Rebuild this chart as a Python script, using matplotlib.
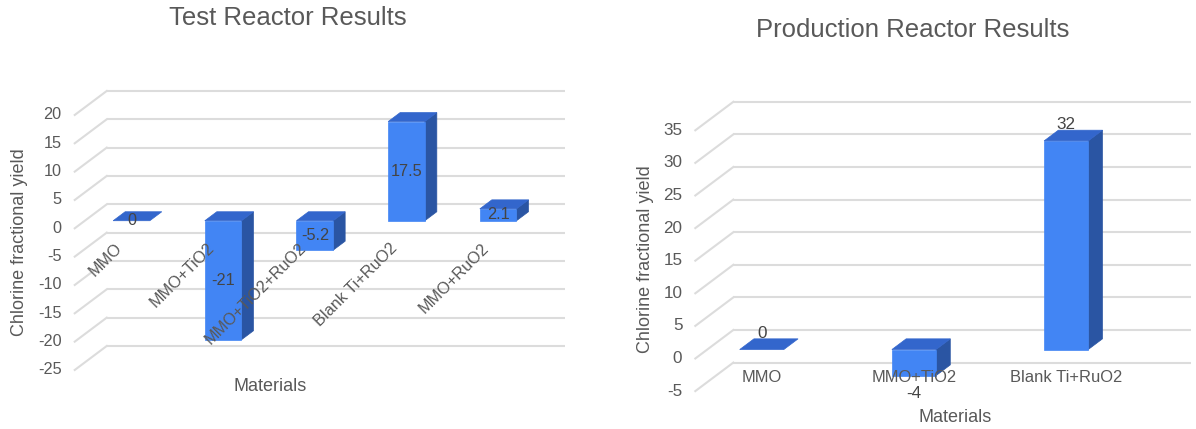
import matplotlib
matplotlib.use('Agg')
import matplotlib.pyplot as plt
from matplotlib.patches import Polygon

plt.rcParams['font.family'] = ['Liberation Sans', 'DejaVu Sans']

# chart data
test_materials = ['MMO', 'MMO+TiO2', 'MMO+TiO2+RuO2', 'Blank Ti+RuO2', 'MMO+RuO2']
test_yield = [0, -21, -5.2, 17.5, 2.1]
test_ticks = [20, 15, 10, 5, 0, -5, -10, -15, -20, -25]

prod_materials = ['MMO', 'MMO+TiO2', 'Blank Ti+RuO2']
prod_yield = [0, -4, 32]
prod_ticks = [35, 30, 25, 20, 15, 10, 5, 0, -5]

W, H = 1196, 429
FRONT = '#4285F4'
TOP = '#3366CC'
SIDE = '#2A55A3'
GRID = '#dcdcdc'
TEXT = '#595959'
T_BACK, T_FRONT = 0.31, 0.685


def place_axes(fig, px_left, px_right, cat0_px, cat_px, zero_px, unit_px):
    """Axes covering a pixel strip, scaled so category i sits at cat0_px + i*cat_px."""
    ax = fig.add_axes([px_left / W, 0, (px_right - px_left) / W, 1])
    ax.set_xlim((px_left - cat0_px) / cat_px, (px_right - cat0_px) / cat_px)
    ax.set_ylim((zero_px - H) / unit_px, zero_px / unit_px)
    ax.set_axis_off()
    return ax


def draw_chart(ax, cats, vals, ticks, wall, depth, width, fs, outside_labels):
    ddx, ddy = depth

    def P(c, v, t):
        return (c + t * ddx, v + t * ddy)

    # back wall and floor grid
    for v in ticks:
        ax.plot([wall[0], wall[1]], [v, v], color=GRID, lw=1.5, zorder=1,
                solid_capstyle='butt')
        ax.plot([wall[0], wall[0] + ddx], [v, v + ddy], color=GRID, lw=1.5,
                zorder=1)
        ax.annotate(str(v), (wall[0] + ddx, v + ddy), xytext=(-13, 0),
                    textcoords='offset pixels', ha='right', va='center',
                    fontsize=fs, color=TEXT)

    # bars
    for i, v in enumerate(vals):
        c0, c1 = i - width / 2, i + width / 2
        lo, hi = min(0, v), max(0, v)
        front = [P(c0, lo, T_FRONT), P(c1, lo, T_FRONT),
                 P(c1, hi, T_FRONT), P(c0, hi, T_FRONT)]
        top = [P(c0, hi, T_FRONT), P(c1, hi, T_FRONT),
               P(c1, hi, T_BACK), P(c0, hi, T_BACK)]
        side = [P(c1, lo, T_FRONT), P(c1, lo, T_BACK),
                P(c1, hi, T_BACK), P(c1, hi, T_FRONT)]
        if v != 0:
            ax.add_patch(Polygon(side, closed=True, fc=SIDE, ec=SIDE, lw=0.5,
                                 zorder=2))
            ax.add_patch(Polygon(front, closed=True, fc=FRONT, ec=FRONT,
                                 lw=0.5, zorder=2))
        ax.add_patch(Polygon(top, closed=True, fc=TOP, ec=TOP, lw=0.5,
                             zorder=2))

        cx = i + T_FRONT * ddx
        label = f'{v:g}'
        if outside_labels:
            if v >= 0:
                ax.annotate(label, (cx, hi + T_FRONT * ddy), xytext=(0, 16),
                            textcoords='offset pixels', ha='center',
                            va='center', fontsize=fs, color='#444444',
                            zorder=3)
            else:
                ax.annotate(label, (cx, lo + T_FRONT * ddy), xytext=(0, -18),
                            textcoords='offset pixels', ha='center',
                            va='center', fontsize=fs, color='#444444',
                            zorder=3)
        else:
            ax.text(cx, v / 2 + T_FRONT * ddy, label, ha='center',
                    va='center', fontsize=fs, color='#444444', zorder=3)

    # category labels
    for i, name in enumerate(cats):
        if outside_labels:
            ax.annotate(name, (i + T_FRONT * ddx, ddy), xytext=(0, -19),
                        textcoords='offset pixels', ha='center', va='center',
                        fontsize=fs - 0.4, color=TEXT, zorder=3)
        else:
            ax.annotate(name, (i + ddx, ddy), xytext=(4, -12),
                        textcoords='offset pixels', ha='right', va='top',
                        rotation=45, fontsize=fs, color=TEXT, zorder=3)


def fig_text(fig, x, y, s, **kw):
    fig.text(x / W, 1 - y / H, s, ha='center', va='center', color=TEXT, **kw)


fig = plt.figure(figsize=(W / 100, H / 100), dpi=100)

ax1 = place_axes(fig, 0, 598, 153.4, 91.67, 204.3, 5.667)
draw_chart(ax1, test_materials, test_yield, test_ticks, wall=(-0.509, 4.49),
           depth=(-32 / 91.67, -24 / 5.667), width=0.40, fs=11.7,
           outside_labels=False)

ax2 = place_axes(fig, 598, 1196, 787.8, 152.2, 330.0, 6.52)
draw_chart(ax2, prod_materials, prod_yield, prod_ticks, wall=(-0.358, 2.647),
           depth=(-38 / 152.2, -28.5 / 6.52), width=0.29, fs=12.3,
           outside_labels=True)

fig_text(fig, 288, 18, 'Test Reactor Results', fontsize=18.5)
fig_text(fig, 913, 30, 'Production Reactor Results', fontsize=18.5)
fig_text(fig, 270, 386.7, 'Materials', fontsize=13)
fig_text(fig, 955, 418, 'Materials', fontsize=13)
fig_text(fig, 20, 241.7, 'Chlorine fractional yield', fontsize=13, rotation=90)
fig_text(fig, 646, 259, 'Chlorine fractional yield', fontsize=13, rotation=90)

fig.savefig('out.png', dpi=100, facecolor='white')
